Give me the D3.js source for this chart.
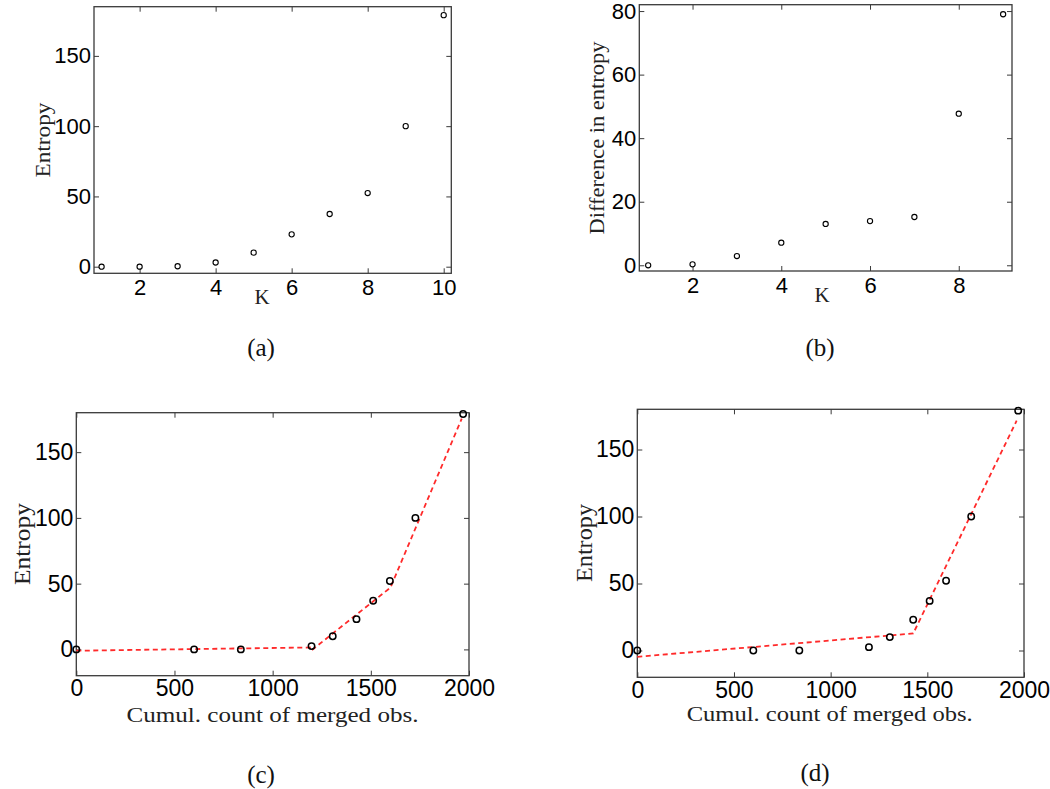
<!DOCTYPE html>
<html><head><meta charset="utf-8">
<script src="https://cdn.jsdelivr.net/npm/d3@7"></script>
<style>body{margin:0;background:#fff;} svg{display:block;}</style>
</head><body>
<svg id="chart" width="1050" height="789"></svg>
<script>
// ---- data ----
const kA = [1, 2, 3, 4, 5, 6, 7, 8, 9, 10];
const entropyA = [0, 0, 0.3, 3, 10, 23, 37.5, 52.4, 100, 179];
const kB = [1, 2, 3, 4, 5, 6, 7, 8, 9];
const diffB = [0, 0.3, 2.9, 7.1, 13, 13.9, 15.2, 47.7, 79];
const cumCount = [0, 600, 838, 1198, 1306, 1427, 1512, 1597, 1727, 1970];
const entropyCD = [0, 0, 0, 2.5, 10, 23, 37, 52, 100, 179];
const fitCSeg1X = [0, 1205];
const fitCSeg1Y = [-1, 1.5];
const fitCSeg2X = [1200, 1600, 1963];
const fitCSeg2Y = [-0.5, 47, 175.5];
const fitDSegX = [0, 1427, 1962];
const fitDSegY = [-4.7, 12.7, 171.5];
const ticksK10 = [2, 4, 6, 8, 10];
const ticksK9 = [2, 4, 6, 8];
const ticksEntropy = [0, 50, 100, 150];
const ticksDiff = [0, 20, 40, 60, 80];
const ticksCount = [0, 500, 1000, 1500, 2000];

const svg = d3.select("#chart");
const SANS = "'Liberation Sans', Arial, sans-serif";
const SERIF = "'Liberation Serif', 'Times New Roman', serif";
const FRAME = "#3a3a3a";

function panel(o) {
  const g = svg.append("g");
  const x = d3.scaleLinear().domain(o.xDomain).range([o.left, o.right]);
  const y = d3.scaleLinear().domain(o.yDomain).range([o.bottom, o.top]);
  const T = 5;
  const styleAxis = sel => {
    sel.select(".domain").remove();
    sel.selectAll(".tick line").attr("stroke", FRAME).attr("stroke-width", 1);
    sel.selectAll(".tick text").attr("fill", "#000").attr("font-family", SANS).attr("font-size", o.tickFont);
  };
  g.append("g").attr("transform", `translate(0,${o.bottom})`)
    .call(d3.axisBottom(x).tickValues(o.xTicks).tickSize(-T).tickPadding(5).tickFormat(d3.format("d")))
    .call(styleAxis)
    .selectAll(".tick text").attr("dy", null).attr("y", o.xTickBase);
  g.append("g").attr("transform", `translate(0,${o.top})`)
    .call(d3.axisTop(x).tickValues(o.xTicks).tickSize(-T).tickFormat(""))
    .call(styleAxis);
  g.append("g").attr("transform", `translate(${o.left},0)`)
    .call(d3.axisLeft(y).tickValues(o.yTicks).tickSize(-T).tickPadding(3).tickFormat(d3.format("d")))
    .call(styleAxis);
  g.append("g").attr("transform", `translate(${o.right},0)`)
    .call(d3.axisRight(y).tickValues(o.yTicks).tickSize(-T).tickFormat(""))
    .call(styleAxis);
  g.selectAll("g text").attr("font-size", o.tickFont);
  g.append("rect").attr("x", o.left).attr("y", o.top)
    .attr("width", o.right - o.left).attr("height", o.bottom - o.top)
    .attr("fill", "none").attr("stroke", FRAME).attr("stroke-width", 1.3);

  const line = d3.line().x(d => x(d[0])).y(d => y(d[1]));
  (o.fits || []).forEach(f => {
    g.append("path").attr("d", line(f.xs.map((v, i) => [v, f.ys[i]])))
      .attr("fill", "none").attr("stroke", "#ff2a2a").attr("stroke-width", 1.8)
      .attr("stroke-dasharray", "5,3.5");
  });
  g.selectAll("circle.pt").data(o.xs.map((v, i) => [v, o.ys[i]])).enter()
    .append("circle").attr("cx", d => x(d[0])).attr("cy", d => y(d[1]))
    .attr("r", o.r).attr("fill", "none").attr("stroke", "#000").attr("stroke-width", o.sw);

  g.append("text").attr("x", o.xlab[0]).attr("y", o.xlab[1])
    .attr("text-anchor", "middle").attr("font-family", SERIF).attr("font-size", o.xlabFont || o.labFont)
    .attr("fill", "#222").text(o.xlabel)
    .each(function () { if (o.xlabW) { d3.select(this).attr("textLength", o.xlabW).attr("lengthAdjust", "spacingAndGlyphs"); } });
  g.append("text").attr("transform", `translate(${o.ylab[0]},${o.ylab[1]}) rotate(-90)`)
    .attr("text-anchor", "middle").attr("dy", "0.35em").attr("font-family", SERIF).attr("font-size", o.labFont)
    .attr("fill", "#222").text(o.ylabel)
    .attr("textLength", o.ylabW).attr("lengthAdjust", "spacingAndGlyphs");
  g.append("text").attr("x", o.cap[0]).attr("y", o.cap[1])
    .attr("text-anchor", "middle").attr("dy", "0.35em").attr("font-family", SERIF).attr("font-size", 25)
    .attr("fill", "#111").text(o.caption);
}

panel({left: 94, right: 451.3, top: 6.7, bottom: 273.3, xDomain: [0.8, 10.2], yDomain: [-4.7, 185],
  xTicks: ticksK10, yTicks: ticksEntropy, xs: kA, ys: entropyA, r: 2.6, sw: 1.1, tickFont: 22, xTickBase: 22,
  xlabel: "K", xlab: [262, 304], ylabel: "Entropy", ylab: [43, 140], ylabW: 75, labFont: 21,
  cap: [261, 347], caption: "(a)"});
panel({left: 639.3, right: 1012, top: 4.7, bottom: 271, xDomain: [0.8, 9.2], yDomain: [-1.8, 82],
  xTicks: ticksK9, yTicks: ticksDiff, xs: kB, ys: diffB, r: 2.6, sw: 1.1, tickFont: 22, xTickBase: 22,
  xlabel: "K", xlab: [822, 302], ylabel: "Difference in entropy", ylab: [597, 138], ylabW: 193, labFont: 21,
  cap: [820, 347], caption: "(b)"});
panel({left: 76.3, right: 469, top: 412.7, bottom: 675.7, xDomain: [0, 2000], yDomain: [-20, 180],
  xTicks: ticksCount, yTicks: ticksEntropy, xs: cumCount, ys: entropyCD, r: 3.2, sw: 1.5, tickFont: 23, xTickBase: 20.5,
  fits: [{xs: fitCSeg1X, ys: fitCSeg1Y}, {xs: fitCSeg2X, ys: fitCSeg2Y}],
  xlabel: "Cumul. count of merged obs.", xlab: [272.5, 722], xlabW: 292, xlabFont: 22,
  ylabel: "Entropy", ylab: [22, 544], ylabW: 82, labFont: 23,
  cap: [261, 774], caption: "(c)"});
panel({left: 637.3, right: 1024, top: 409.3, bottom: 677.3, xDomain: [0, 2000], yDomain: [-20, 180],
  xTicks: ticksCount, yTicks: ticksEntropy, xs: cumCount, ys: entropyCD, r: 3.2, sw: 1.5, tickFont: 23, xTickBase: 20.5,
  fits: [{xs: fitDSegX, ys: fitDSegY}],
  xlabel: "Cumul. count of merged obs.", xlab: [829.7, 721], xlabW: 286, xlabFont: 22,
  ylabel: "Entropy", ylab: [584, 543], ylabW: 78, labFont: 23,
  cap: [815, 772], caption: "(d)"});
</script>
</body></html>
